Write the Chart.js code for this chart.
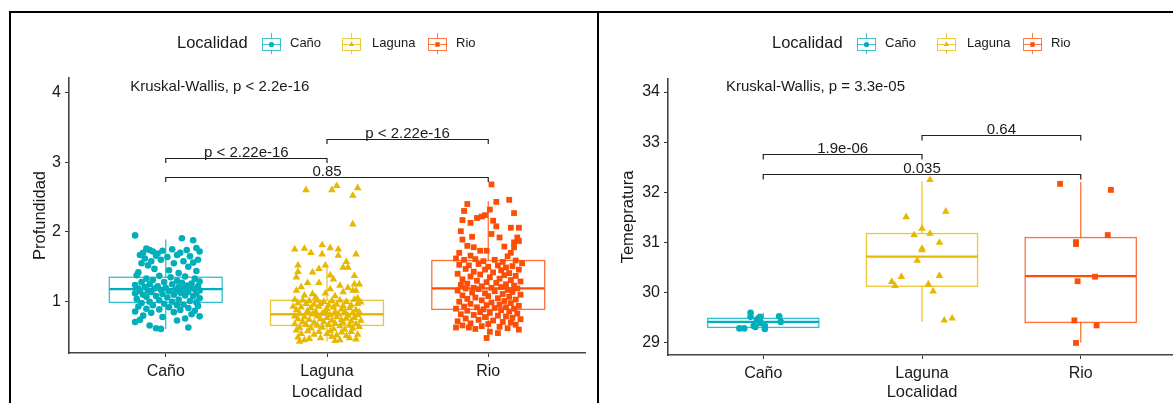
<!DOCTYPE html>
<html><head><meta charset="utf-8">
<script src="https://cdn.jsdelivr.net/npm/chart.js@4.4.1/dist/chart.umd.min.js"></script>
<style>
html,body{margin:0;padding:0;background:#fff;width:1173px;height:403px;overflow:hidden;}
#wrap{position:relative;width:1173px;height:403px;overflow:hidden;background:#fff;}
canvas{position:absolute;top:0;}
.ln{position:absolute;background:#000;z-index:5;}
</style></head><body>
<div id="wrap">
<canvas id="c1" width="598" height="403" style="left:0"></canvas>
<canvas id="c2" width="590" height="403" style="left:599px"></canvas>
<div class="ln" style="left:9px;top:11px;width:1164px;height:2px"></div>
<div class="ln" style="left:9px;top:11px;width:2px;height:392px"></div>
<div class="ln" style="left:597px;top:11px;width:2px;height:392px"></div>
</div>
<script>
const categories = ['Caño', 'Laguna', 'Rio'];
const colors = ['#00AFBB', '#E7B800', '#FC4E07'];
const pointStyles = ['circle', 'triangle', 'rect'];
const xTitle = 'Localidad';
const legendTitle = 'Localidad';

// ---------- Panel 1: Profundidad ----------
const profTicks = [1, 2, 3, 4];
// box stats: [whiskerLow, q1, median, q3, whiskerHigh]
const profBoxCano = [0.61, 0.99, 1.18, 1.35, 1.89];
const profBoxLaguna = [0.43, 0.66, 0.82, 1.02, 1.50];
const profBoxRio = [0.48, 0.89, 1.19, 1.59, 2.44];
// jittered points: [jitter offset, value]
const profCano = [[-0.19,1.95],[0.10,1.91],[0.17,1.88],
[-0.12,1.76],[-0.10,1.74],[-0.14,1.70],[-0.08,1.72],[-0.05,1.69],[-0.02,1.73],[0.04,1.75],[0.09,1.70],[0.13,1.74],[0.19,1.77],[0.21,1.72],[-0.16,1.67],[-0.06,1.66],[0.01,1.64],[0.07,1.67],[0.15,1.65],[0.20,1.60],[-0.13,1.62],[-0.09,1.58],[-0.03,1.60],[0.11,1.58],[0.17,1.56],[-0.15,1.55],[0.05,1.55],[-0.11,1.52],[0.14,1.50],[-0.07,1.47],[0.02,1.45],[0.19,1.44],[-0.17,1.42],[0.08,1.41],
[-0.18,1.38],[-0.04,1.37],[0.12,1.36],[0.03,1.35],[-0.12,1.33],[0.18,1.33],[-0.08,1.31],[0.07,1.30],[0.21,1.29],[-0.15,1.28],[-0.01,1.28],[0.10,1.27],[0.16,1.26],[-0.10,1.25],[0.04,1.25],[-0.19,1.24],[0.13,1.23],[-0.05,1.22],[0.20,1.22],[0.08,1.21],[-0.13,1.21],[0.00,1.20],[0.15,1.20],[-0.17,1.19],[-0.07,1.19],[0.11,1.18],[0.18,1.18],[-0.03,1.17],[0.06,1.17],[-0.11,1.16],[0.21,1.16],
[-0.16,1.15],[0.02,1.15],[0.14,1.14],[-0.09,1.14],[0.09,1.13],[-0.19,1.12],[0.19,1.12],[-0.02,1.11],[0.05,1.10],[-0.14,1.10],[0.12,1.09],[-0.06,1.08],[0.17,1.08],[-0.12,1.07],[0.01,1.06],[0.21,1.05],[-0.18,1.04],[0.08,1.03],[-0.04,1.02],[0.15,1.01],[-0.10,1.00],[0.04,1.00],[0.19,0.99],
[-0.15,0.98],[-0.01,0.97],[0.11,0.96],[-0.08,0.95],[0.07,0.95],[0.20,0.94],[-0.17,0.93],[0.02,0.92],[0.14,0.91],[-0.12,0.90],[-0.04,0.89],[0.09,0.88],[0.18,0.87],[-0.19,0.86],[0.05,0.85],[-0.09,0.84],[0.16,0.82],[-0.14,0.80],[0.21,0.79],[-0.02,0.78],[0.12,0.76],[-0.16,0.74],[0.07,0.73],[-0.19,0.71],[-0.10,0.66],[-0.06,0.62],[-0.03,0.61],[0.14,0.63]];
const profLaguna = [[-0.13,2.60],[0.03,2.60],[0.06,2.66],[0.19,2.63],[0.16,2.52],[0.16,2.11],
[-0.20,1.75],[-0.14,1.76],[-0.10,1.70],[-0.03,1.81],[0.02,1.77],[0.07,1.75],[-0.03,1.68],[0.07,1.66],[0.18,1.68],
[-0.18,1.52],[-0.18,1.43],[-0.19,1.35],[-0.01,1.52],[0.12,1.57],[0.10,1.49],[0.13,1.49],[-0.09,1.42],[-0.05,1.47],[0.17,1.37],[0.02,1.38],[0.04,1.32],[-0.12,1.27],[-0.05,1.27],[0.08,1.23],[0.17,1.25],[0.20,1.25],[-0.19,1.16],[-0.01,1.12],[-0.14,1.09],[-0.09,1.11],[0.10,1.14],[0.16,1.16],[0.18,1.16],[0.02,1.18],[-0.16,1.21],[0.13,1.20],[-0.07,1.06],[0.05,1.08],[0.19,1.05],
[-0.20,1.03],[-0.15,1.02],[-0.11,1.01],[-0.06,1.02],[-0.02,1.00],[0.03,1.01],[0.08,1.02],[0.12,1.00],[0.17,1.03],[0.21,0.99],
[-0.18,0.98],[-0.13,0.97],[-0.08,0.96],[-0.04,0.97],[0.01,0.95],[0.06,0.96],[0.10,0.94],[0.15,0.95],[0.19,0.97],[-0.21,0.93],
[-0.16,0.92],[-0.10,0.91],[-0.05,0.93],[0.00,0.90],[0.04,0.92],[0.09,0.89],[0.14,0.91],[0.18,0.88],[-0.19,0.88],[-0.12,0.87],
[-0.07,0.86],[-0.01,0.87],[0.05,0.85],[0.11,0.86],[0.16,0.84],[0.20,0.85],[-0.17,0.83],[-0.09,0.82],[-0.03,0.83],[0.02,0.81],
[0.07,0.82],[0.13,0.80],[0.19,0.81],[-0.20,0.79],[-0.14,0.78],[-0.06,0.79],[0.00,0.77],[0.06,0.78],[0.12,0.76],[0.17,0.77],
[-0.18,0.75],[-0.11,0.74],[-0.04,0.75],[0.03,0.73],[0.09,0.74],[0.15,0.72],[0.21,0.73],[-0.15,0.71],[-0.08,0.70],[-0.02,0.71],
[0.05,0.69],[0.10,0.70],[0.18,0.68],[-0.20,0.68],[-0.13,0.67],[-0.06,0.66],[0.01,0.67],[0.08,0.65],[0.14,0.66],[0.20,0.64],
[-0.17,0.63],[-0.10,0.62],[-0.03,0.63],[0.04,0.61],[0.11,0.60],[0.16,0.62],[-0.19,0.59],[-0.12,0.58],[-0.05,0.57],[0.02,0.58],
[0.09,0.56],[0.15,0.57],[-0.16,0.54],[-0.08,0.53],[0.00,0.54],[0.06,0.52],[0.12,0.51],[0.19,0.53],[-0.18,0.49],[-0.11,0.47],
[-0.04,0.48],[0.05,0.44],[0.14,0.48],[0.18,0.46],[-0.17,0.43],[0.03,0.50],[0.08,0.45],[-0.14,0.45]];
const profRio = [[0.02,2.68],[-0.13,2.40],[0.05,2.43],[0.13,2.46],[-0.15,2.30],[0.01,2.32],[0.16,2.27],[-0.16,2.17],[-0.11,2.13],[-0.07,2.20],[-0.04,2.22],[-0.02,2.24],[0.03,2.16],[0.05,2.08],[0.14,2.06],[0.19,2.06],[-0.17,2.01],[-0.10,1.93],[0.02,1.97],[0.07,1.92],[-0.16,1.89],[0.18,1.92],[0.16,1.85],[0.19,1.87],[-0.13,1.80],[0.10,1.79],[0.16,1.78],[-0.18,1.70],[-0.09,1.78],[-0.05,1.73],[-0.01,1.73],[-0.11,1.66],[0.12,1.65],[0.14,1.70],
[-0.20,1.62],[-0.15,1.60],[-0.08,1.61],[-0.03,1.58],[0.04,1.60],[0.09,1.57],[0.17,1.59],[0.21,1.55],[-0.18,1.53],[-0.12,1.52],[-0.06,1.54],[0.00,1.50],[0.06,1.52],[0.11,1.49],[0.15,1.51],[-0.14,1.47],[-0.02,1.46],[0.08,1.45],[0.19,1.46],[-0.09,1.43],[0.03,1.42],[0.13,1.41],[-0.19,1.40],[-0.05,1.39],[0.10,1.38],[0.17,1.37],[-0.11,1.36],[0.01,1.35],[0.07,1.33],[-0.16,1.32],[0.14,1.31],[-0.07,1.30],[0.20,1.29],[-0.01,1.28],[0.05,1.27],[-0.13,1.26],[0.11,1.25],[-0.17,1.24],[0.16,1.23],[-0.04,1.22],[0.08,1.21],[-0.09,1.20],[0.02,1.20],[0.18,1.19],[-0.14,1.19],
[-0.06,1.18],[0.12,1.17],[-0.19,1.16],[0.04,1.15],[0.15,1.14],[-0.10,1.13],[-0.02,1.12],[0.09,1.11],[0.20,1.10],[-0.16,1.09],[0.00,1.08],[0.13,1.07],[-0.08,1.06],[0.06,1.05],[-0.13,1.04],[0.17,1.03],[-0.04,1.02],[0.10,1.01],[-0.18,1.00],[0.02,0.99],[0.14,0.98],[-0.11,0.97],[0.07,0.96],[-0.01,0.95],[0.19,0.94],[-0.15,0.93],[0.11,0.92],[-0.07,0.92],[0.04,0.91],[-0.20,0.90],[0.16,0.90],[-0.03,0.89],
[0.08,0.88],[-0.13,0.87],[0.13,0.86],[-0.05,0.85],[0.01,0.84],[0.18,0.83],[-0.17,0.82],[-0.09,0.81],[0.06,0.80],[0.11,0.79],[-0.02,0.78],[0.15,0.77],[-0.14,0.76],[0.20,0.75],[-0.06,0.74],[0.03,0.73],[-0.19,0.72],[0.09,0.71],[0.14,0.70],[-0.11,0.69],[0.00,0.68],[0.17,0.67],[-0.16,0.66],[-0.04,0.65],[0.07,0.64],[-0.20,0.63],[-0.12,0.63],[0.19,0.60],[0.01,0.57],[-0.08,0.61],[0.12,0.62],[-0.01,0.48],[0.06,0.55]];
// brackets: [from category, to category, y value, label]
const profBrackets = [[1, 2, 3.06, 'p < 2.22e-16'], [2, 3, 3.33, 'p < 2.22e-16'], [1, 3, 2.78, '0.85']];
const profTest = 'Kruskal-Wallis, p < 2.2e-16';
const profTestPos = [0.78, 4.075];

// ---------- Panel 2: Temperatura ----------
const tempTicks = [29, 30, 31, 32, 33, 34];
const tempBoxCano = [29.27, 29.31, 29.42, 29.49, 29.60];
const tempBoxLaguna = [29.42, 30.13, 30.72, 31.18, 32.22];
const tempBoxRio = [29.01, 29.41, 30.33, 31.10, 32.20];
const tempCano = [[-0.08,29.60],[-0.08,29.52],[-0.03,29.49],[-0.02,29.52],[-0.02,29.43],[0.10,29.53],[0.11,29.42],[-0.06,29.34],[-0.05,29.32],[0.01,29.34],[0.01,29.28],[-0.15,29.29],[-0.12,29.29],[-0.02,29.40],[-0.04,29.46]];
const tempLaguna = [[0.05,32.25],[0.15,31.62],[-0.10,31.51],[0.00,31.28],[-0.05,31.15],[0.05,31.18],[0.11,31.00],[0.00,30.88],[0.00,30.85],[-0.03,30.64],[-0.13,30.32],[0.11,30.34],[-0.19,30.22],[-0.17,30.14],[0.04,30.17],[0.07,30.03],[0.14,29.45],[0.19,29.49]];
const tempRio = [[-0.13,32.17],[0.19,32.05],[0.17,31.15],[-0.03,31.01],[-0.03,30.97],[0.09,30.32],[-0.02,30.23],[-0.04,29.45],[0.10,29.35],[-0.03,29.00]];
const tempBrackets = [[1, 2, 32.76, '1.9e-06'], [2, 3, 33.14, '0.64'], [1, 3, 32.37, '0.035']];
const tempTest = 'Kruskal-Wallis, p = 3.3e-05';
const tempTestPos = [0.765, 34.10];

const FONT = '"Liberation Sans", Arial, Helvetica, sans-serif';
const TXT = '#1a1a1a';

function hexA(hex, a) {
  const n = parseInt(hex.slice(1), 16);
  return `rgba(${(n >> 16) & 255},${(n >> 8) & 255},${n & 255},${a})`;
}

function drawGlyph(ctx, cx, cy, i) {
  ctx.save();
  ctx.strokeStyle = hexA(colors[i], 0.75);
  ctx.lineWidth = 1;
  ctx.beginPath();
  ctx.moveTo(cx + 0.5, cy - 11); ctx.lineTo(cx + 0.5, cy - 6);
  ctx.moveTo(cx + 0.5, cy + 6); ctx.lineTo(cx + 0.5, cy + 10);
  ctx.stroke();
  ctx.fillStyle = '#fff';
  ctx.fillRect(cx - 9, cy - 6, 19, 12);
  ctx.strokeRect(cx - 9 + 0.5, cy - 6 + 0.5, 18, 12);
  ctx.beginPath(); ctx.moveTo(cx - 9, cy + 0.5); ctx.lineTo(cx + 10, cy + 0.5); ctx.stroke();
  Chart.helpers.drawPoint(ctx, {pointStyle: pointStyles[i], radius: i === 0 ? 2.6 : 3.2, borderWidth: 0, rotation: 0}, cx + 0.5, cy + 0.5);
  ctx.fillStyle = colors[i];
  ctx.fill();
  ctx.restore();
}

function makePanel(id, o) {
  const datasets = o.points.map((pts, i) => ({
    label: categories[i],
    data: pts.map(p => ({x: i + 1 + p[0], y: p[1]})),
    pointStyle: pointStyles[i],
    pointRadius: [3.3, 4.4, 4.1][i],
    backgroundColor: colors[i],
    borderColor: colors[i],
    borderWidth: 0,
    pointBorderWidth: 0
  }));
  const plugin = {
    id: 'decor_' + id,
    beforeDatasetsDraw(chart) {
      const ctx = chart.ctx, xs = chart.scales.x, ys = chart.scales.y;
      o.boxes.forEach((b, i) => {
        const xc = xs.getPixelForValue(i + 1);
        const hw = xs.getPixelForValue(i + 1 + 0.35) - xc;
        const [lo, q1, med, q3, hi] = b.map(v => ys.getPixelForValue(v));
        ctx.save();
        ctx.strokeStyle = hexA(colors[i], 0.8);
        ctx.lineWidth = 1.3;
        ctx.beginPath();
        ctx.moveTo(xc, lo); ctx.lineTo(xc, q1);
        ctx.moveTo(xc, q3); ctx.lineTo(xc, hi);
        ctx.stroke();
        ctx.strokeRect(xc - hw, q3, 2 * hw, q1 - q3);
        ctx.strokeStyle = colors[i];
        ctx.lineWidth = 2.3;
        ctx.beginPath(); ctx.moveTo(xc - hw, med); ctx.lineTo(xc + hw, med); ctx.stroke();
        ctx.restore();
      });
    },
    afterDraw(chart) {
      const ctx = chart.ctx, xs = chart.scales.x, ys = chart.scales.y, ca = chart.chartArea;
      ctx.save();
      // brackets
      ctx.strokeStyle = '#222'; ctx.lineWidth = 1.2; ctx.fillStyle = TXT;
      ctx.font = `15px ${FONT}`; ctx.textAlign = 'center'; ctx.textBaseline = 'alphabetic';
      o.brackets.forEach(b => {
        const x1 = xs.getPixelForValue(b[0]), x2 = xs.getPixelForValue(b[1]), yy = Math.round(ys.getPixelForValue(b[2])) + 0.5;
        ctx.beginPath();
        ctx.moveTo(x1, yy + o.tip); ctx.lineTo(x1, yy); ctx.lineTo(x2, yy); ctx.lineTo(x2, yy + o.tip);
        ctx.stroke();
        ctx.fillText(b[3], (x1 + x2) / 2, yy - 2);
      });
      // test text
      ctx.textAlign = 'left'; ctx.textBaseline = 'middle';
      ctx.fillText(o.test, xs.getPixelForValue(o.testPos[0]), ys.getPixelForValue(o.testPos[1]));
      // axis titles
      ctx.font = `16.5px ${FONT}`; ctx.textAlign = 'center';
      const cx = (ca.left + ca.right) / 2;
      ctx.fillText(xTitle, cx, 392);
      ctx.save();
      ctx.translate(o.yTitleX, (ca.top + ca.bottom) / 2);
      ctx.rotate(-Math.PI / 2);
      ctx.fillText(o.yTitle, 0, 0);
      ctx.restore();
      // legend
      const ly = 43.5;
      ctx.textAlign = 'left';
      ctx.font = `16.5px ${FONT}`;
      ctx.fillText(legendTitle, cx - 150, ly);
      const gx = [-56.5, 24, 110], tx = [-37, 45, 129];
      categories.forEach((c, i) => {
        drawGlyph(ctx, Math.round(cx + gx[i]), Math.round(ly), i);
        ctx.fillStyle = TXT;
        ctx.font = `13px ${FONT}`;
        ctx.fillText(c, cx + tx[i], ly);
      });
      ctx.restore();
    }
  };
  const axisCommon = {
    grid: {display: true, drawOnChartArea: false, drawTicks: true, tickLength: 4, color: '#333', lineWidth: 1},
    border: {display: true, color: '#444', width: 1.6}
  };
  new Chart(document.getElementById(id), {
    type: 'scatter',
    data: {datasets},
    options: {
      responsive: false, animation: false, devicePixelRatio: 1, events: [],
      layout: {padding: {left: 10, right: o.padRight, top: o.padTop, bottom: 0}},
      plugins: {legend: {display: false}, tooltip: {enabled: false}, title: {display: false}},
      scales: {
        x: Object.assign({
          type: 'linear', min: 0.4, max: 3.6,
          afterBuildTicks: s => { s.ticks = categories.map((c, i) => ({value: i + 1})); },
          afterFit: s => { s.height = o.xHeight; },
          ticks: {callback: v => categories[v - 1], font: {family: FONT, size: 16}, color: TXT, padding: 5, maxRotation: 0, autoSkip: false}
        }, axisCommon),
        y: Object.assign({
          type: 'linear', min: o.yMin, max: o.yMax,
          afterBuildTicks: s => { s.ticks = o.yTicks.map(v => ({value: v})); },
          afterFit: s => { s.width = 59; },
          ticks: {font: {family: FONT, size: 16}, color: TXT, padding: 4, autoSkip: false}
        }, axisCommon)
      }
    },
    plugins: [plugin]
  });
}

makePanel('c1', {
  points: [profCano, profLaguna, profRio],
  boxes: [profBoxCano, profBoxLaguna, profBoxRio],
  brackets: profBrackets, test: profTest, testPos: profTestPos,
  yTicks: profTicks, yMin: 0.265, yMax: 4.205,
  yTitle: 'Profundidad', yTitleX: 40, padTop: 78, padRight: 13, xHeight: 50, tip: 4.5
});
makePanel('c2', {
  points: [tempCano, tempLaguna, tempRio],
  boxes: [tempBoxCano, tempBoxLaguna, tempBoxRio],
  brackets: tempBrackets, test: tempTest, testPos: tempTestPos,
  yTicks: tempTicks, yMin: 28.76, yMax: 34.26,
  yTitle: 'Temepratura', yTitleX: 29, padTop: 79, padRight: 13, xHeight: 48, tip: 5
});
</script>
</body></html>
